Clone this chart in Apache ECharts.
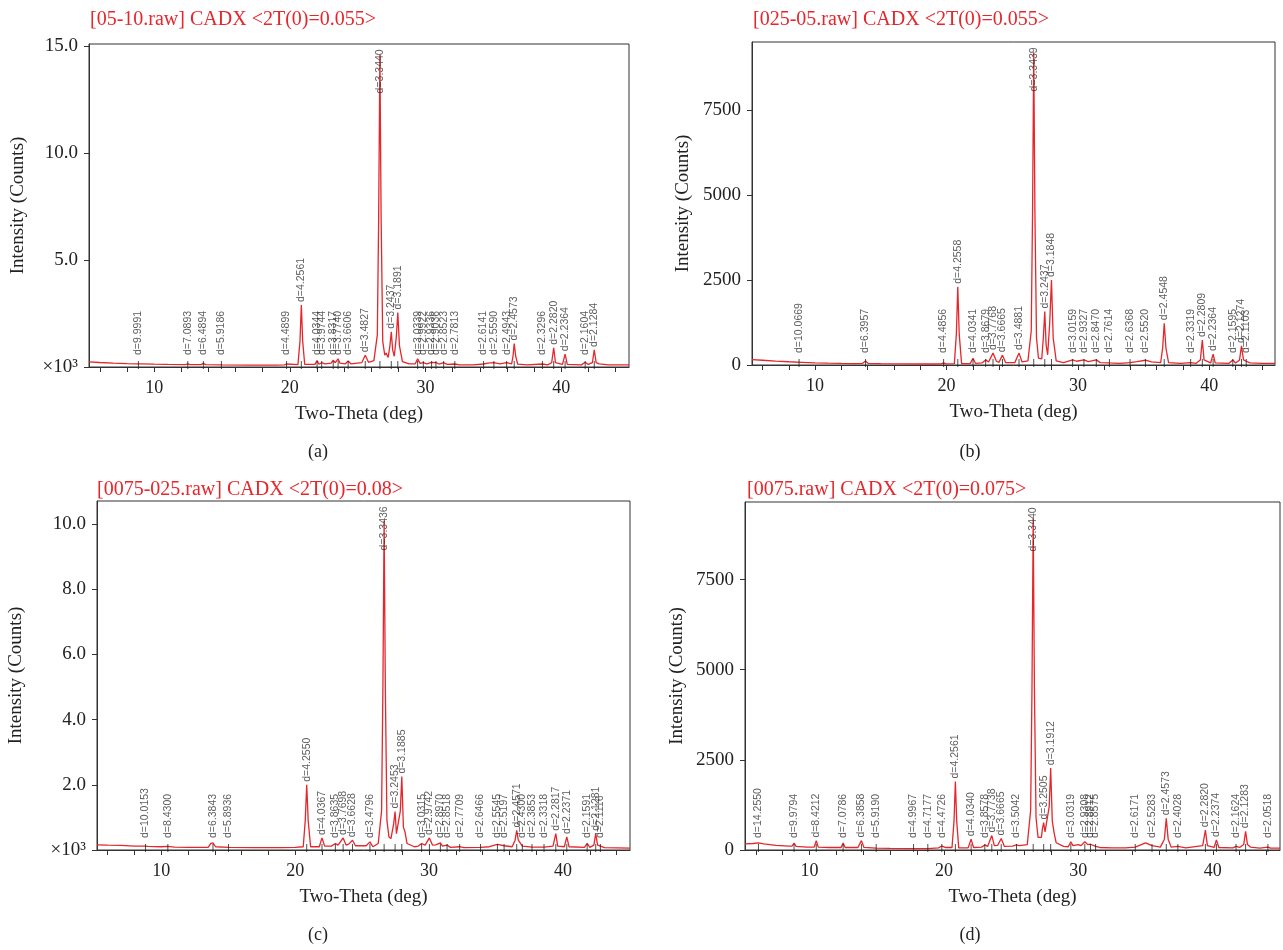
<!DOCTYPE html>
<html>
<head>
<meta charset="utf-8">
<script src="https://cdn.jsdelivr.net/npm/echarts@6/dist/echarts.min.js"></script>
<style>
  html, body { margin: 0; padding: 0; background: #fff; }
  #chart { width: 1283px; height: 950px; }
</style>
</head>
<body>
<div id="chart"></div>
<script>
// ---- XRD patterns: [two-theta (deg), intensity] ----
// (a) and (c) in thousands of counts, (b) and (d) in counts
const patternA = [[5.2,0.24],[6,0.21],[7,0.18],[8,0.16],[8.7,0.15],[8.84,0.19],[9.0,0.15],[10,0.13],[11,0.12],[12.3,0.11],[12.48,0.15],[12.65,0.11],[13.45,0.11],[13.63,0.17],[13.8,0.11],[15,0.1],[17,0.09],[19,0.09],[19.6,0.1],[19.76,0.14],[19.9,0.1],
  [20.6,0.11],[20.75,1.2],[20.85,2.9],[20.95,1.2],[21.1,0.12],
  [21.85,0.12],[22.01,0.3],[22.15,0.13],[22.35,0.2],[22.6,0.15],[23.05,0.18],[23.2,0.32],[23.35,0.2],[23.56,0.38],[23.7,0.18],[24.1,0.15],[24.3,0.28],[24.5,0.15],[25.3,0.2],[25.56,0.55],[25.8,0.22],
  [26.2,0.3],[26.45,1.5],[26.55,7],[26.64,14.6],[26.73,7],[26.85,1.2],[27.0,0.55],[27.1,0.65],[27.25,0.45],[27.38,1.0],[27.48,1.65],[27.58,0.8],[27.7,0.5],[27.85,1.4],[27.96,2.55],[28.08,1.0],[28.3,0.25],[28.8,0.15],
  [29.25,0.15],[29.42,0.38],[29.6,0.17],[29.84,0.2],[30.1,0.15],[30.45,0.22],[30.77,0.2],[31.0,0.14],[31.34,0.2],[31.6,0.12],[32.16,0.14],[32.5,0.1],[33.5,0.1],[34.28,0.14],[34.6,0.18],[35.04,0.2],[35.5,0.15],[35.98,0.2],[36.35,0.15],[36.45,0.5],[36.54,1.1],[36.65,0.5],[36.8,0.13],[37.5,0.1],[38.62,0.14],[39.0,0.1],[39.3,0.2],[39.45,0.9],[39.58,0.2],[40.1,0.12],[40.29,0.6],[40.45,0.12],[41.5,0.1],[41.77,0.22],[42.0,0.12],[42.3,0.2],[42.44,0.8],[42.58,0.2],[42.8,0.15],[43.5,0.1],[45,0.1]];

const patternB = [[5.2,160],[6,140],[7,115],[8,95],[9,80],[10,65],[11,55],[12,48],[13,42],[13.6,45],[13.84,120],[14.05,45],[15,38],[17,32],[19,30],[19.6,35],[19.78,60],[19.95,35],
  [20.6,40],[20.75,900],[20.86,2300],[20.97,900],[21.15,40],
  [21.8,40],[22.02,200],[22.2,50],[22.7,60],[22.98,150],[23.2,90],[23.54,350],[23.8,110],[24.0,80],[24.26,290],[24.5,70],[25.2,70],[25.52,350],[25.75,90],
  [26.2,120],[26.45,1000],[26.55,4500],[26.64,9200],[26.73,4500],[26.85,800],[27.0,200],[27.1,250],[27.25,180],[27.37,800],[27.48,1570],[27.58,600],[27.7,300],[27.85,1200],[27.99,2500],[28.12,800],[28.35,120],[28.9,70],
  [29.6,150],[29.9,110],[30.46,150],[30.8,100],[31.4,150],[31.7,70],[32.4,60],[33.2,50],[33.97,70],[34.5,100],[35.14,140],[35.6,90],[36.3,70],[36.45,500],[36.57,1230],[36.7,500],[36.9,70],[37.8,50],[38.58,70],[39.0,50],[39.32,150],[39.47,735],[39.6,150],[40.1,60],[40.29,320],[40.45,60],[41.5,50],[41.79,150],[42.0,60],[42.3,150],[42.45,560],[42.6,150],[42.81,110],[43.1,60],[44,50],[45,45]];

const patternC = [[5.2,0.16],[6,0.15],[7,0.14],[8,0.12],[8.82,0.12],[9,0.11],[10,0.1],[10.49,0.11],[11,0.09],[12,0.08],[13.5,0.08],[13.7,0.2],[13.86,0.22],[14.05,0.1],[15.02,0.08],[17,0.07],[19,0.07],[20.0,0.08],
  [20.6,0.1],[20.75,0.9],[20.86,2.0],[20.97,0.9],[21.15,0.1],
  [21.8,0.1],[22.0,0.37],[22.2,0.12],[22.7,0.12],[23.0,0.2],[23.2,0.15],[23.58,0.37],[23.8,0.15],[24.0,0.18],[24.28,0.3],[24.5,0.13],[25.3,0.13],[25.58,0.25],[25.8,0.1],
  [26.2,0.2],[26.45,1.2],[26.55,5],[26.64,10.1],[26.73,5],[26.85,0.9],[27.0,0.4],[27.15,0.35],[27.35,0.8],[27.46,1.18],[27.56,0.5],[27.7,0.5],[27.85,1.2],[27.96,2.25],[28.08,0.7],[28.2,0.55],[28.35,0.2],[28.9,0.1],
  [29.2,0.12],[29.44,0.2],[29.7,0.15],[30.02,0.37],[30.25,0.15],[30.5,0.16],[30.84,0.22],[31.0,0.12],[31.34,0.15],[31.6,0.08],[32.28,0.1],[32.6,0.07],[33.84,0.08],[34.5,0.1],[35.1,0.17],[35.6,0.13],[36.2,0.1],[36.42,0.3],[36.54,0.6],[36.66,0.3],[36.96,0.12],[37.68,0.09],[38.58,0.09],[39.25,0.12],[39.46,0.5],[39.6,0.12],[40.1,0.1],[40.28,0.4],[40.45,0.1],[41.6,0.08],[41.8,0.2],[42.0,0.08],[42.3,0.15],[42.44,0.5],[42.58,0.15],[42.79,0.12],[43.1,0.07],[45,0.06]];

const patternD = [[5.2,170],[5.8,180],[6.2,200],[6.6,170],[7.5,130],[8.5,110],[8.7,110],[8.85,190],[9.0,100],[9.8,80],[10.35,80],[10.5,260],[10.65,80],[11.5,70],[12.35,70],[12.5,190],[12.65,70],[13.6,70],[13.86,260],[14.05,70],[14.96,50],[16,45],[17.74,40],[18.8,40],[19.6,60],[19.84,110],[20.1,70],
  [20.6,70],[20.75,800],[20.85,1900],[20.95,800],[21.1,60],
  [21.8,60],[22.02,300],[22.2,70],[22.8,80],[23.04,140],[23.25,100],[23.56,400],[23.75,120],[24.0,130],[24.26,320],[24.5,100],[25.1,110],[25.4,140],[25.6,120],
  [26.2,150],[26.45,1100],[26.55,4500],[26.64,9200],[26.73,4500],[26.85,900],[27.0,350],[27.1,370],[27.25,350],[27.33,600],[27.42,760],[27.52,500],[27.65,450],[27.83,1200],[27.94,2270],[28.06,800],[28.2,470],[28.35,200],[28.9,100],
  [29.25,90],[29.44,230],[29.6,120],[30.0,150],[30.2,120],[30.48,230],[30.7,150],[30.9,160],[31.28,100],[31.6,70],[32.5,60],[33.5,60],[34.23,80],[35.0,200],[35.48,120],[36.1,80],[36.4,300],[36.54,880],[36.68,300],[36.9,80],[37.4,100],[38.0,60],[39.25,120],[39.45,550],[39.6,120],[40.1,70],[40.27,280],[40.45,70],[41.5,60],[41.73,100],[42.0,70],[42.3,150],[42.44,520],[42.58,150],[42.8,80],[43.5,50],[44.1,80],[44.3,50],[45,50]];

// ---- d-spacing peak labels: [two-theta (deg), label] ----
const peaksA = [[8.84,'d=9.9991'],[12.48,'d=7.0893'],[13.63,'d=6.4894'],[14.96,'d=5.9186'],[19.76,'d=4.4899'],[20.85,'d=4.2561'],[22.01,'d=4.0344'],[22.35,'d=3.9744'],[23.20,'d=3.8317'],[23.56,'d=3.7740'],[24.30,'d=3.6606'],[25.56,'d=3.4827'],[26.64,'d=3.3440'],[27.48,'d=3.2437'],[27.96,'d=3.1891'],[29.42,'d=3.0339'],[29.84,'d=2.9922'],[30.45,'d=2.9336'],[30.77,'d=2.9036'],[31.34,'d=2.8523'],[32.16,'d=2.7813'],[34.28,'d=2.6141'],[35.04,'d=2.5590'],[35.98,'d=2.4943'],[36.54,'d=2.4573'],[38.62,'d=2.3296'],[39.45,'d=2.2820'],[40.29,'d=2.2364'],[41.77,'d=2.1604'],[42.44,'d=2.1284']];
const peaksB = [[8.78,'d=10.0669'],[13.84,'d=6.3957'],[19.78,'d=4.4856'],[20.86,'d=4.2558'],[22.02,'d=4.0341'],[22.98,'d=3.8679'],[23.54,'d=3.7768'],[24.26,'d=3.6665'],[25.52,'d=3.4881'],[26.64,'d=3.3439'],[27.48,'d=3.2437'],[27.99,'d=3.1848'],[29.60,'d=3.0159'],[30.46,'d=2.9327'],[31.40,'d=2.8470'],[32.40,'d=2.7614'],[33.97,'d=2.6368'],[35.14,'d=2.5520'],[36.57,'d=2.4548'],[38.58,'d=2.3319'],[39.47,'d=2.2809'],[40.29,'d=2.2364'],[41.79,'d=2.1595'],[42.45,'d=2.1274'],[42.81,'d=2.1103']];
const peaksC = [[8.82,'d=10.0153'],[10.49,'d=8.4300'],[13.86,'d=6.3843'],[15.02,'d=5.8936'],[20.86,'d=4.2550'],[22.00,'d=4.0367'],[23.00,'d=3.8635'],[23.58,'d=3.7698'],[24.28,'d=3.6628'],[25.58,'d=3.4796'],[26.64,'d=3.3436'],[27.46,'d=3.2453'],[27.96,'d=3.1885'],[29.44,'d=3.0315'],[30.02,'d=2.9742'],[30.84,'d=2.8970'],[31.34,'d=2.8518'],[32.28,'d=2.7709'],[33.84,'d=2.6466'],[35.10,'d=2.5545'],[35.60,'d=2.5197'],[36.54,'d=2.4571'],[36.96,'d=2.4300'],[37.68,'d=2.3853'],[38.58,'d=2.3318'],[39.46,'d=2.2817'],[40.28,'d=2.2371'],[41.80,'d=2.1591'],[42.44,'d=2.1281'],[42.79,'d=2.1116']];
const peaksD = [[6.20,'d=14.2550'],[8.85,'d=9.9794'],[10.50,'d=8.4212'],[12.50,'d=7.0786'],[13.86,'d=6.3858'],[14.96,'d=5.9190'],[17.74,'d=4.9967'],[18.80,'d=4.7177'],[19.84,'d=4.4726'],[20.85,'d=4.2561'],[22.02,'d=4.0340'],[23.04,'d=3.8578'],[23.56,'d=3.7738'],[24.26,'d=3.6665'],[25.40,'d=3.5042'],[26.64,'d=3.3440'],[27.42,'d=3.2505'],[27.94,'d=3.1912'],[29.44,'d=3.0319'],[30.48,'d=2.9308'],[30.90,'d=2.8912'],[31.28,'d=2.8575'],[34.23,'d=2.6171'],[35.48,'d=2.5283'],[36.54,'d=2.4573'],[37.40,'d=2.4028'],[39.45,'d=2.2820'],[40.27,'d=2.2374'],[41.73,'d=2.1624'],[42.44,'d=2.1283'],[44.10,'d=2.0518']];

// ---- axis ticks ----
const xTickValues = [6,8,10,12,14,16,18,20,22,24,26,28,30,32,34,36,38,40,42,44];
const xLabelValues = [10,20,30,40];
const yTicksA = [0,5,10,15];
const yTicksB = [0,2500,5000,7500];
const yTicksC = [0,2,4,6,8,10];
const yTicksD = [0,2500,5000,7500];

const titles = ['[05-10.raw] CADX <2T(0)=0.055>', '[025-05.raw] CADX <2T(0)=0.055>',
                '[0075-025.raw] CADX <2T(0)=0.08>', '[0075.raw] CADX <2T(0)=0.075>'];
const captions = ['(a)', '(b)', '(c)', '(d)'];

// ---- panel layout ----
const SERIF = '"Liberation Serif", "Times New Roman", serif';
const SANS = '"Liberation Sans", Arial, sans-serif';
const RED = '#e5262b';

const panels = [
  { pattern: patternA, peaks: peaksA, yTicks: yTicksA, ymax: 15.1, thousands: true,
    grid: { left: 89, top: 44, width: 540, height: 323 }, title: [85, 5], cap: [318, 452], nameGap: 61 },
  { pattern: patternB, peaks: peaksB, yTicks: yTicksB, ymax: 9500, thousands: false,
    grid: { left: 752, top: 42, width: 523, height: 323 }, title: [748, 5], cap: [970, 452], nameGap: 59 },
  { pattern: patternC, peaks: peaksC, yTicks: yTicksC, ymax: 10.7, thousands: true,
    grid: { left: 97, top: 501, width: 533, height: 349 }, title: [92, 475], cap: [318, 935], nameGap: 71 },
  { pattern: patternD, peaks: peaksD, yTicks: yTicksD, ymax: 9650, thousands: false,
    grid: { left: 745, top: 502, width: 535, height: 348 }, title: [742, 475], cap: [970, 935], nameGap: 58 }
];

// height of the pattern near a given angle (local maximum of nearby points)
function heightAt(pattern, x) {
  let best = -Infinity;
  for (const p of pattern) if (Math.abs(p[0] - x) <= 0.12) best = Math.max(best, p[1]);
  if (best > -Infinity) return best;
  for (let i = 1; i < pattern.length; i++) {
    if (pattern[i][0] >= x) {
      const a = pattern[i - 1], b = pattern[i];
      return a[1] + (b[1] - a[1]) * (x - a[0]) / (b[0] - a[0]);
    }
  }
  return pattern[pattern.length - 1][1];
}

const grids = [], xAxes = [], yAxes = [], series = [], titleOpts = [], graphics = [];

panels.forEach((pn, i) => {
  grids.push(Object.assign({ show: true, borderColor: '#333', borderWidth: 1, backgroundColor: 'transparent' }, pn.grid));
  xAxes.push({
    type: 'value', gridIndex: i, min: 5.2, max: 45,
    name: 'Two-Theta (deg)', nameLocation: 'middle', nameGap: 38,
    nameTextStyle: { fontFamily: SERIF, fontSize: 19, color: '#222' },
    axisLine: { show: true, onZero: false, lineStyle: { color: '#333' } },
    axisTick: { show: true, inside: false, length: 5, customValues: xTickValues, lineStyle: { color: '#333' } },
    axisLabel: { customValues: xLabelValues, fontFamily: SERIF, fontSize: 18, color: '#222', margin: 12 },
    splitLine: { show: false }
  });
  yAxes.push({
    type: 'value', gridIndex: i, min: 0, max: pn.ymax,
    name: 'Intensity (Counts)', nameLocation: 'middle', nameGap: pn.nameGap,
    nameTextStyle: { fontFamily: SERIF, fontSize: 19, color: '#222' },
    axisLine: { show: true, lineStyle: { color: '#333' } },
    axisTick: { show: true, inside: false, length: 5, customValues: pn.yTicks, lineStyle: { color: '#333' } },
    axisLabel: {
      customValues: pn.yTicks, fontFamily: SERIF, fontSize: 19, color: '#222', margin: 11,
      formatter: v => pn.thousands ? (v === 0 ? '×10³' : v.toFixed(1)) : String(v)
    },
    splitLine: { show: false }
  });

  series.push({
    type: 'line', xAxisIndex: i, yAxisIndex: i, data: pn.pattern,
    showSymbol: false, symbol: 'none', smooth: false, clip: true,
    lineStyle: { color: RED, width: 1.3 }, z: 3, silent: true
  });

  // label anchors: just above the peak, kept inside the frame
  const ppu = pn.grid.height / pn.ymax;
  const labelData = pn.peaks.map(([x, txt]) => {
    const h = heightAt(pn.pattern, x);
    let bottomPx = Math.max(h * ppu + 3, 12);
    const len = txt.length * 5.8;
    if (bottomPx + len > pn.grid.height - 3) bottomPx = pn.grid.height - 3 - len;
    return { value: [x, bottomPx / ppu], name: txt };
  });
  series.push({
    type: 'scatter', xAxisIndex: i, yAxisIndex: i, data: labelData,
    symbolSize: 0, silent: true, z: 4,
    label: {
      show: true, position: 'top', distance: 0, rotate: 90, align: 'left', verticalAlign: 'middle',
      formatter: p => p.name, fontFamily: SANS, fontSize: 10.5, color: '#333'
    }
  });
  // short peak markers on the baseline
  series.push({
    type: 'scatter', xAxisIndex: i, yAxisIndex: i,
    data: pn.peaks.map(p => [p[0], 0]),
    symbol: 'rect', symbolSize: [1, 8], symbolOffset: [0, -2],
    itemStyle: { color: '#222' }, silent: true, z: 5
  });

  titleOpts.push({
    text: titles[i], left: pn.title[0], top: pn.title[1],
    textStyle: { fontFamily: SERIF, fontSize: 20, fontWeight: 'normal', color: RED }
  });
  graphics.push({
    type: 'text', x: pn.cap[0], y: pn.cap[1],
    style: { text: captions[i], font: '18px ' + SERIF, fill: '#222', align: 'center', verticalAlign: 'middle' }
  });
});

const chart = echarts.init(document.getElementById('chart'), null, { renderer: 'canvas' });
chart.setOption({
  backgroundColor: '#fff',
  animation: false,
  title: titleOpts,
  grid: grids,
  xAxis: xAxes,
  yAxis: yAxes,
  series: series,
  graphic: graphics
});
</script>
</body>
</html>
